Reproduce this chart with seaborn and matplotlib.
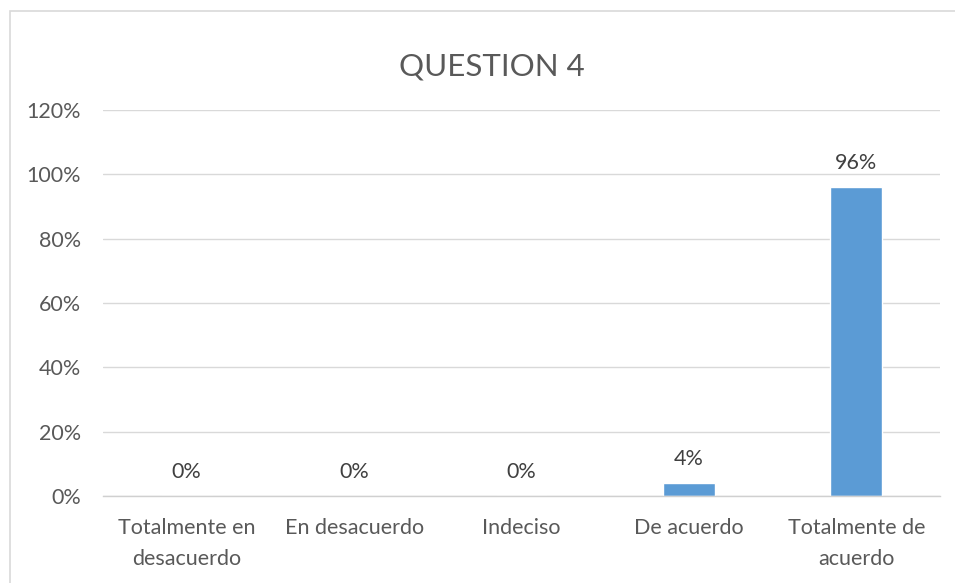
import matplotlib
matplotlib.use("Agg")
import matplotlib.pyplot as plt
import seaborn as sns
import pandas as pd
from matplotlib.patches import Rectangle

categories = ["Totalmente en\ndesacuerdo", "En desacuerdo", "Indeciso", "De acuerdo", "Totalmente de\nacuerdo"]
values = [0, 0, 0, 4, 96]
yticks = [0, 20, 40, 60, 80, 100, 120]
title = "QUESTION 4"

sns.set_theme(style="white")
plt.rcParams["font.family"] = ["Lato", "DejaVu Sans"]

df = pd.DataFrame({"cat": categories, "val": values})

fig = plt.figure(figsize=(9.55, 5.83), dpi=100)
ax = fig.add_axes([103/955, 1-496/583, (940-103)/955, (496-110)/583])

sns.barplot(data=df, x="cat", y="val", color="#5B9BD5", width=0.31, ax=ax, saturation=1)

fs = 15.5
ax.set_ylim(0, 120)
ax.set_xlim(-0.5, 4.5)
ax.set_yticks(yticks)
ax.set_yticklabels([f"{t}%" for t in yticks], color="#595959", fontsize=fs)
ax.set_xticks(range(len(categories)))
ax.set_xticklabels(categories, color="#595959", fontsize=fs, linespacing=1.7)
ax.tick_params(axis="both", length=0)
ax.tick_params(axis="y", pad=16)
ax.tick_params(axis="x", pad=15.5)
ax.set_xlabel("")
ax.set_ylabel("")
ax.grid(axis="y", color="#d9d9d9", linewidth=1)
ax.set_axisbelow(True)
for s in ["top", "right", "left"]:
    ax.spines[s].set_visible(False)
ax.spines["bottom"].set_color("#d0d0d0")
ax.spines["bottom"].set_linewidth(1)

for i, v in enumerate(values):
    ax.text(i, v + 4.4, f"{v}%", ha="center", va="bottom", color="#404040", fontsize=fs)

fig.text(492/955, 1-67/583, title, ha="center", va="center", fontsize=22.5, color="#595959")

fig.patches.append(Rectangle((10/955, -0.05), 1.0, 1-11/583+0.05, transform=fig.transFigure,
                             fill=False, edgecolor="#d9d9d9", linewidth=1.2))

fig.savefig("out.png", dpi=100)
